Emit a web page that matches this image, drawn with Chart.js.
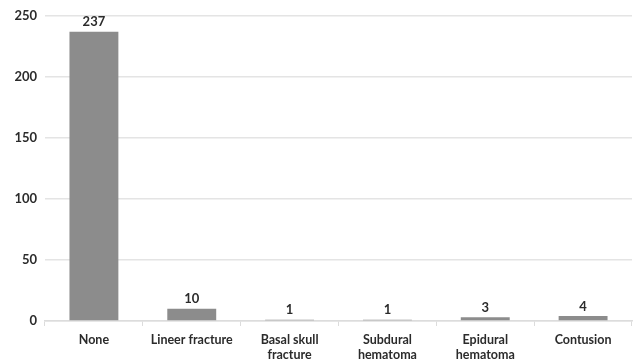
<!DOCTYPE html>
<html>
<head>
<meta charset="utf-8">
<script src="https://cdn.jsdelivr.net/npm/chart.js@4/dist/chart.umd.min.js"></script>
<style>
  html, body { margin: 0; padding: 0; background: #fff; overflow: hidden; }
  #wrap { width: 633px; height: 368px; position: relative; }
</style>
</head>
<body>
<div id="wrap"><canvas id="myChart"></canvas></div>
<script>
// categories and counts
const categories = [
  ['None'],
  ['Lineer fracture'],
  ['Basal skull', 'fracture'],
  ['Subdural', 'hematoma'],
  ['Epidural', 'hematoma'],
  ['Contusion']
];
const counts = [237, 10, 1, 1, 3, 4];
const yTicks = [0, 50, 100, 150, 200, 250];

// draws the count above each bar
const valueLabels = {
  id: 'valueLabels',
  afterDatasetsDraw(chart) {
    const ctx = chart.ctx;
    const meta = chart.getDatasetMeta(0);
    ctx.save();
    ctx.font = 'bold 13px Lato';
    ctx.fillStyle = '#2b2b2b';
    ctx.textAlign = 'center';
    ctx.textBaseline = 'bottom';
    meta.data.forEach((bar, i) => {
      ctx.fillText(counts[i], bar.x, bar.y - 3);
    });
    ctx.restore();
  }
};

const myChart = document.getElementById('myChart');

let barChart = new Chart(myChart, {
  type: 'bar',
  data: {
    labels: categories,
    datasets: [{
      data: counts,
      backgroundColor: '#8c8c8c',
      barPercentage: 0.5,
      categoryPercentage: 1
    }]
  },
  options: {
    responsive: true,
    maintainAspectRatio: false,
    animation: false,
    layout: { padding: { top: 5, right: 1, left: 0, bottom: 0 } },
    plugins: {
      legend: { display: false },
      tooltip: { enabled: false }
    },
    scales: {
      y: {
        min: 0,
        max: 250,
        afterBuildTicks: scale => { scale.ticks = yTicks.map(v => ({ value: v })); },
        afterFit: scale => { scale.width = 45; },
        border: { display: false },
        grid: { color: '#e4e4e4', lineWidth: 1.5, drawTicks: false },
        ticks: {
          padding: 8,
          color: '#2b2b2b',
          font: { family: 'Lato', weight: 'bold', size: 13 }
        }
      },
      x: {
        border: { color: '#dcdcdc', width: 1.5 },
        grid: { offset: true, drawOnChartArea: false, color: '#dcdcdc', tickLength: 5 },
        ticks: {
          padding: 6,
          maxRotation: 0,
          autoSkip: false,
          color: '#2b2b2b',
          font: { family: 'Lato', weight: 'bold', size: 12.5, lineHeight: 1.2 }
        }
      }
    }
  },
  plugins: [valueLabels]
});
</script>
</body>
</html>
